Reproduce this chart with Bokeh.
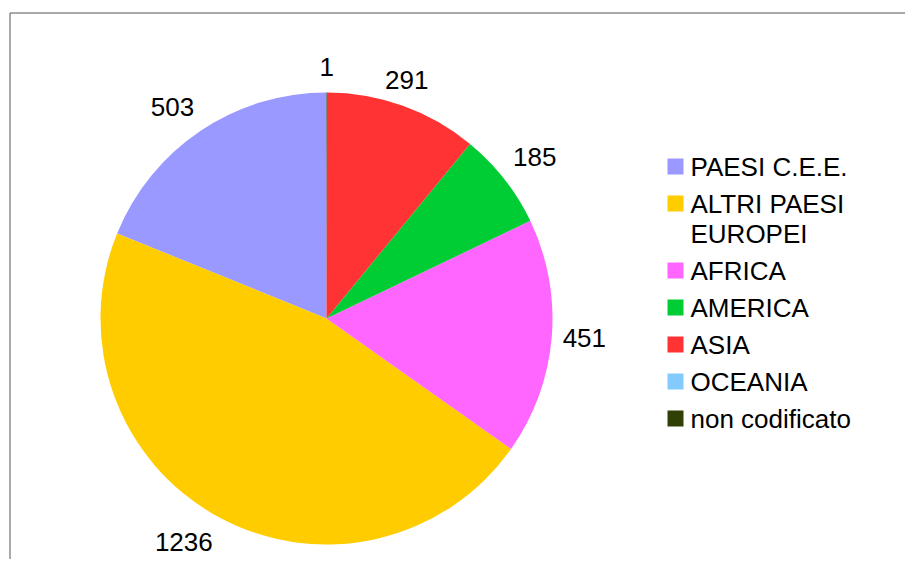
import math
import textwrap
from bokeh.plotting import figure
from bokeh.models import Range1d, ColumnDataSource
from bokeh.core.properties import value
from bokeh.embed import file_html
from bokeh.resources import INLINE

# ---- data ----
categories = ["PAESI C.E.E.", "ALTRI PAESI EUROPEI", "AFRICA", "AMERICA",
              "ASIA", "OCEANIA", "non codificato"]
counts = [503, 1236, 451, 185, 291, 0, 1]
colors = ["#9999ff", "#ffcc00", "#ff66ff", "#00cc33", "#ff3333", "#83caff", "#314004"]

# ---- layout (pixel-like coordinates, y up) ----
W, H = 905, 559
FONT = value("Liberation Sans")
FSIZE = "26px"

p = figure(width=W, height=H, x_range=Range1d(0, W), y_range=Range1d(0, H),
           output_backend="svg", toolbar_location=None, min_border=0,
           x_axis_location=None, y_axis_location=None)
p.grid.visible = False
p.outline_line_color = None
p.background_fill_color = "white"
p.border_fill_color = "white"

# chart frame (top and left edges visible)
p.line(x=[9.5, 9.5, W], y=[0, H - 12.5, H - 12.5], line_color="#555555", line_width=1)

cx, cy, R = 326, H - 318, 226
total = sum(counts)

starts, ends = [], []
acc = 0
for c in counts:
    a0 = math.pi / 2 + 2 * math.pi * acc / total
    acc += c
    a1 = math.pi / 2 + 2 * math.pi * acc / total
    starts.append(a0)
    ends.append(a1)

idx = [i for i, c in enumerate(counts) if c > 0]
src = ColumnDataSource(dict(
    start=[starts[i] for i in idx],
    end=[ends[i] for i in idx],
    color=[colors[i] for i in idx],
))
p.wedge(x=cx, y=cy, radius=R, start_angle="start", end_angle="end",
        direction="anticlock", fill_color="color", line_color=None, source=src)

# value labels outside the pie
LR = R + 11
for i in idx:
    mid = (starts[i] + ends[i]) / 2
    dx, dy = math.cos(mid), math.sin(mid)
    align = "left" if dx > 0.38 else ("right" if dx < -0.38 else "center")
    if dy > 0.38:
        base, yoff = "bottom", -6
    elif dy < -0.38:
        base, yoff = "top", 7
    else:
        base, yoff = "middle", 0
    p.text(x=[cx + LR * dx], y=[cy + LR * dy], text=[str(counts[i])],
           text_align=align, text_baseline=base, y_offset=yoff, text_font=FONT,
           text_font_size=FSIZE, text_color="black")

# legend
leg_x = 675
txt_x = 690
row_y = H - 166
row_step = 37
line_step = 30
sq_x, sq_y, sq_c = [], [], []
tx, ty, tt = [], [], []
y = row_y
for i, name in enumerate(categories):
    lines = textwrap.wrap(name, 14)
    sq_x.append(leg_x)
    sq_y.append(y)
    sq_c.append(colors[i])
    for j, ln in enumerate(lines):
        tx.append(txt_x)
        ty.append(y - j * line_step)
        tt.append(ln)
    y -= row_step + line_step * (len(lines) - 1)

p.rect(x=sq_x, y=sq_y, width=16, height=16, fill_color=sq_c, line_color=None)
p.text(x=tx, y=ty, text=tt, text_align="left", text_baseline="middle",
       text_font=FONT, text_font_size=FSIZE, text_color="black")

open("out.html", "w").write(file_html(p, INLINE))
